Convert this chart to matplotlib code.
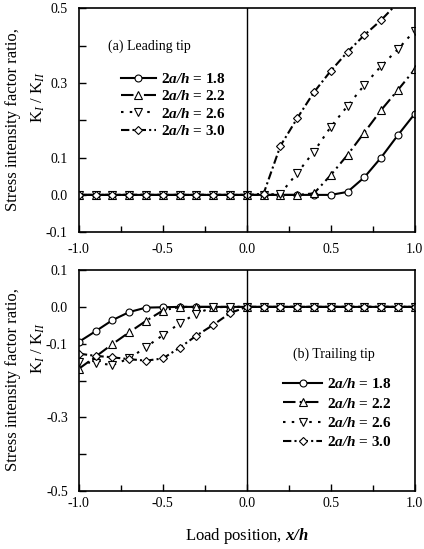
import matplotlib
matplotlib.use('Agg')
import matplotlib.pyplot as plt
from matplotlib.lines import Line2D

plt.rcParams['font.family'] = ['Liberation Serif', 'DejaVu Serif']
plt.rcParams['axes.unicode_minus'] = False
plt.rcParams['mathtext.fontset'] = 'custom'
plt.rcParams['mathtext.rm'] = 'Liberation Serif'
plt.rcParams['mathtext.it'] = 'Liberation Serif:italic'
plt.rcParams['mathtext.bf'] = 'Liberation Serif:bold'
plt.rcParams['mathtext.bfit'] = 'Liberation Serif:italic:bold'

# load position x/h
x_pos = [-1.0, -0.9, -0.8, -0.7, -0.6, -0.5, -0.4, -0.3, -0.2, -0.1, 0.0,
         0.1, 0.2, 0.3, 0.4, 0.5, 0.6, 0.7, 0.8, 0.9, 1.0]

ratios = ['1.8', '2.2', '2.6', '3.0']

# (a) leading tip
lead_18 = [0, 0, 0, 0, 0, 0, 0, 0, 0, 0, 0,
           0, 0, 0, 0, 0.0, 0.008, 0.047, 0.100, 0.160, 0.217]
lead_22 = [0, 0, 0, 0, 0, 0, 0, 0, 0, 0, 0,
           0, 0, 0, 0.004, 0.053, 0.107, 0.167, 0.227, 0.281, 0.336]
lead_26 = [0, 0, 0, 0, 0, 0, 0, 0, 0, 0, 0,
           0, 0.003, 0.058, 0.116, 0.182, 0.238, 0.294, 0.345, 0.390, 0.440]
lead_30 = [0, 0, 0, 0, 0, 0, 0, 0, 0, 0, 0,
           0.003, 0.131, 0.205, 0.275, 0.332, 0.383, 0.428, 0.468, 0.515, 0.560]

# (b) trailing tip
trail_18 = [-0.095, -0.066, -0.036, -0.014, -0.002, -0.001, 0, 0, 0, 0, 0,
            0, 0, 0, 0, 0, 0, 0, 0, 0, 0]
trail_22 = [-0.168, -0.135, -0.101, -0.069, -0.038, -0.010, 0.0, 0, 0, 0, 0,
            0, 0, 0, 0, 0, 0, 0, 0, 0, 0]
trail_26 = [-0.150, -0.152, -0.158, -0.140, -0.109, -0.077, -0.045, -0.018, -0.001, 0, 0,
            0, 0, 0, 0, 0, 0, 0, 0, 0, 0]
trail_30 = [-0.127, -0.133, -0.137, -0.142, -0.146, -0.140, -0.111, -0.078, -0.049, -0.017, 0,
            0, 0, 0, 0, 0, 0, 0, 0, 0, 0]

styles = [('-', 'o'),
          ((0, (6, 2, 1, 2)), '^'),
          ((0, (1.2, 3)), 'v'),
          ((0, (4, 1.5, 1, 1.5)), 'D')]
sizes = {'o': 5, '^': 5.8, 'v': 5.8, 'D': 4.3}


def draw(ax, series):
    for ys, (ls, mk) in zip(series, styles):
        ax.plot(x_pos, ys, color='black', lw=1.5, ls=ls, marker=mk, ms=sizes[mk],
                mfc='white', mec='black', mew=0.8, clip_on=True)
    ax.axvline(0, color='black', lw=1)
    ax.set_xlim(-1, 1)
    ax.set_xticks([-1.0, -0.5, 0.0, 0.5, 1.0])
    ax.set_xticks([-0.75, -0.25, 0.25, 0.75], minor=True)
    ax.tick_params(which='both', direction='in', labelsize=10)
    ax.tick_params(which='major', length=5, width=1)
    ax.tick_params(which='minor', length=4, width=1)
    ax.tick_params(axis='y', pad=8)
    for s in ax.spines.values():
        s.set_linewidth(1.2)


def legend(ax, x0, y0, hl, sp):
    handles = [Line2D([], [], color='black', lw=1.5, ls=ls, marker=mk,
                      ms=sizes[mk], mfc='white', mec='black', mew=0.8)
               for ls, mk in styles]
    labels = [r'$\mathbf{2}\mathbfit{a/h}$ = ' + r for r in ratios]
    ax.legend(handles, labels, loc='upper left', bbox_to_anchor=(x0, y0),
              frameon=False, handlelength=hl, handletextpad=0.3, labelspacing=sp,
              borderpad=0, borderaxespad=0, numpoints=1,
              prop={'family': 'Liberation Serif', 'size': 11, 'weight': 'bold'})


fig = plt.figure(figsize=(4.24, 5.49), dpi=100)
ax1 = fig.add_axes([0.186, 0.577, 0.792, 0.408])
ax2 = fig.add_axes([0.186, 0.1056, 0.792, 0.4025])

draw(ax1, [lead_18, lead_22, lead_26, lead_30])
ax1.set_ylim(-0.1, 0.5)
ax1.set_yticks([-0.1, 0.0, 0.1, 0.2, 0.3, 0.4, 0.5])
ax1.set_yticklabels(['-0.1', '0.0', '0.1', '', '0.3', '', '0.5'])
ax1.tick_params(axis='x', pad=8)
ax1.text(0.21, 0.83, '(a) Leading tip', transform=ax1.transAxes,
         ha='center', va='center', fontsize=10)
legend(ax1, 0.125, 0.715, 2.3, 0.22)

draw(ax2, [trail_18, trail_22, trail_26, trail_30])
ax2.set_ylim(-0.5, 0.1)
ax2.set_yticks([-0.5, -0.4, -0.3, -0.2, -0.1, 0.0, 0.1])
ax2.set_yticklabels(['-0.5', '', '-0.3', '', '-0.1', '0.0', '0.1'])
ax2.tick_params(axis='x', pad=4)
ax2.text(0.76, 0.62, '(b) Trailing tip', transform=ax2.transAxes,
         ha='center', va='center', fontsize=10)
legend(ax2, 0.607, 0.515, 2.6, 0.35)

ax2.set_xlabel(r'Load position, $\mathbfit{x/h}$', fontsize=12, labelpad=12)

for yc, yk in [(120, 97), (380, 348)]:
    fig.text(13 / 424, 1 - yc / 549, 'Stress intensity factor ratio,',
             rotation=90, ha='center', va='center', fontsize=12)
    fig.text(38 / 424, 1 - yk / 549, r'$\mathrm{K}_{I}\ /\ \mathrm{K}_{II}$',
             rotation=90, ha='center', va='center', fontsize=12)

fig.savefig('out.png', dpi=100)
